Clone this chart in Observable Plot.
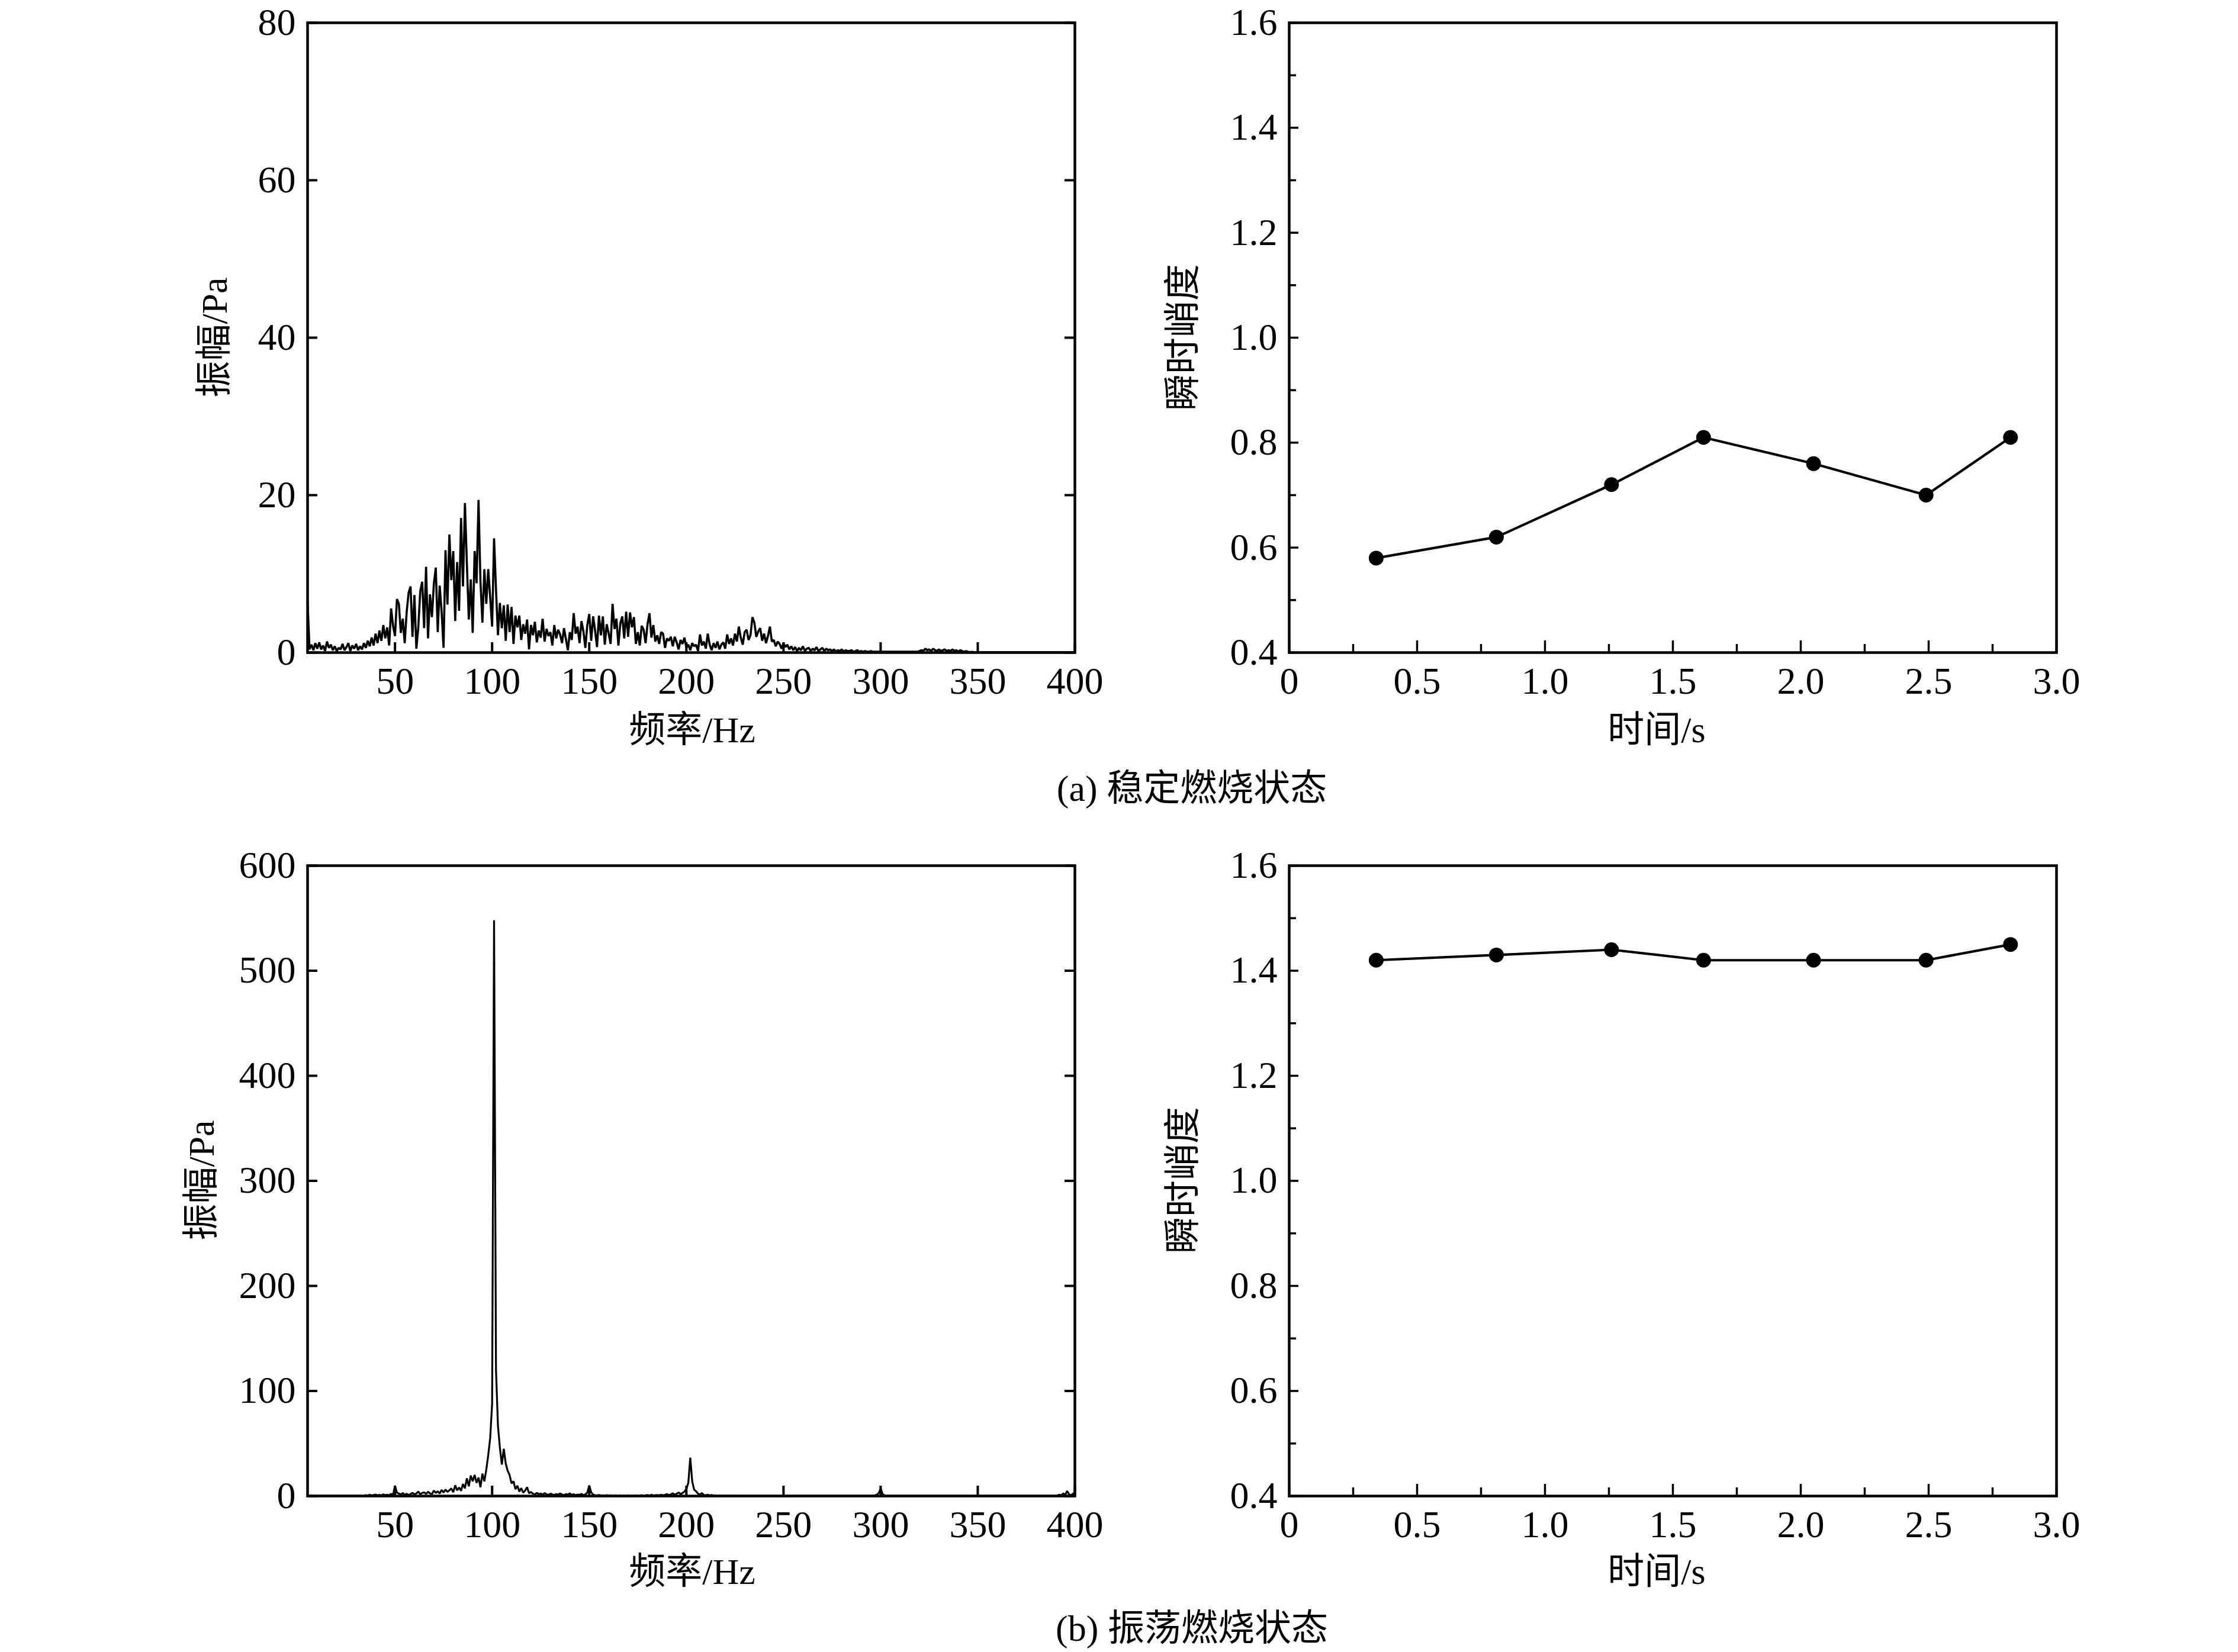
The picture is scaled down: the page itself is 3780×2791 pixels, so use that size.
<!DOCTYPE html>
<html><head><meta charset="utf-8">
<script src="https://cdn.jsdelivr.net/npm/d3@7"></script>
<script src="https://cdn.jsdelivr.net/npm/@observablehq/plot@0.6"></script>
<style>
html,body{margin:0;padding:0;background:#fff;}
#root{position:relative;width:3780px;height:2791px;background:#fff;overflow:hidden;font-family:"Liberation Serif","Noto Sans CJK SC",serif;color:#000;}
.panel{position:absolute;}
.t{position:absolute;white-space:nowrap;font-size:62px;line-height:1;transform:translate(-50%,-50%);}
.ty{transform:translate(-50%,-50%) rotate(-90deg);}
</style></head><body><div id="root"></div>
<script>
// ---------- data ----------
const freqStart = 5;          // Hz, first spectral bin
const freqStep = 1;           // Hz per bin
const freqTicks = [50, 100, 150, 200, 250, 300, 350, 400];

// (a) stable combustion spectrum, amplitude in Pa, bins from 5 Hz to 400 Hz
const ampStable = [
  6.5,0.4,1.0,0.3,1.2,0.5,1.3,0.4,0.9,0.2,
  1.4,0.6,1.0,0.3,0.8,0.2,0.6,0.4,1.1,0.3,
  0.7,1.2,0.2,0.9,0.5,1.1,0.3,0.8,0.4,1.2,
  0.6,1.5,0.8,1.9,0.9,2.4,1.2,2.8,1.5,3.5,
  1.8,3.2,0.9,5.6,3.4,2.1,6.8,6.2,2.5,4.3,
  1.2,5.1,7.6,8.4,2.0,7.3,0.5,3.2,7.8,9.0,
  3.1,10.9,1.8,7.4,4.5,8.7,10.8,2.6,8.5,5.2,
  0.6,13.0,6.1,15.0,9.2,12.9,4.0,11.5,5.3,17.1,
  8.4,19.0,11.3,4.2,9.3,2.5,12.9,8.8,19.4,9.0,
  3.8,10.6,6.2,10.6,7.0,3.3,14.5,8.0,2.2,6.3,
  3.1,6.0,1.5,6.1,2.6,5.8,1.1,4.7,3.2,4.7,
  1.6,3.6,2.4,4.2,0.4,3.5,2.2,3.9,1.3,2.8,
  1.9,4.3,1.4,3.0,2.1,2.6,0.9,3.5,1.8,2.9,
  2.3,1.2,3.1,1.7,0.3,2.6,1.6,5.0,2.4,3.3,
  1.2,4.0,2.7,0.6,3.5,4.9,1.5,4.6,2.8,0.7,
  4.7,2.2,4.6,1.0,3.6,2.4,1.1,6.2,3.0,4.3,
  0.9,3.7,4.6,1.8,5.2,2.0,5.1,3.2,4.5,1.1,
  2.6,0.9,3.4,2.9,1.2,3.6,5.0,1.9,3.5,1.4,
  2.2,1.1,2.6,2.4,0.6,1.8,1.5,2.0,0.8,2.0,
  1.3,0.4,1.6,1.1,1.9,0.6,1.0,0.3,1.2,0.8,
  1.0,0.2,2.3,0.9,1.4,0.5,2.4,1.0,0.3,1.2,
  0.6,1.4,0.4,1.0,1.3,0.5,2.3,1.1,1.8,0.9,
  2.4,1.4,3.3,1.9,1.0,2.6,2.9,1.6,2.2,4.5,
  3.8,2.0,2.7,3.1,1.5,2.4,1.2,2.1,3.3,1.4,
  1.6,0.8,1.4,1.1,0.5,1.2,0.7,1.0,0.4,0.8,
  0.3,0.7,0.2,0.6,0.3,0.8,0.2,0.5,0.6,0.2,
  0.5,0.3,0.7,0.2,0.4,0.6,0.2,0.5,0.3,0.4,
  0.2,0.4,0.1,0.3,0.2,0.4,0.1,0.3,0.2,0.2,
  0.3,0.1,0.2,0.3,0.1,0.2,0.1,0.2,0.1,0.1,
  0.2,0.1,0.1,0.1,0.1,0.1,0.1,0.1,0.1,0.1,
  0.1,0.1,0.1,0.1,0.1,0.1,0.1,0.1,0.1,0.1,
  0.1,0.1,0.1,0.1,0.1,0.2,0.3,0.2,0.5,0.3,
  0.4,0.2,0.5,0.3,0.2,0.4,0.2,0.3,0.4,0.2,
  0.3,0.2,0.4,0.2,0.3,0.1,0.3,0.2,0.1,0.2,
  0.1,0.05,0.1,0.05,0.05,0.05,0.05,0.05,0.05,0.05,
  0.05,0.05,0.05,0.05,0.05,0.05,0.05,0.05,0.05,0.05,
  0.05,0.05,0.05,0.05,0.05,0.05,0.05,0.05,0.05,0.05,
  0.05,0.05,0.05,0.05,0.05,0.05,0.05,0.05,0.05,0.05,
  0.05,0.05,0.05,0.05,0.05,0.05,0.05,0.05,0.05,0.05,
  0.05,0.05,0.05,0.05,0.05,0.05
];
const ampStableTicks = [0, 20, 40, 60, 80];

// (b) oscillating combustion spectrum, amplitude in Pa, bins from 5 Hz to 400 Hz
const ampOsc = [
  0.5,0.3,0.6,0.2,0.4,0.3,0.5,0.2,0.4,0.3,
  0.3,0.5,0.2,0.4,0.3,0.2,0.4,0.3,0.5,0.2,
  0.3,0.4,0.2,0.3,0.5,0.2,0.4,0.3,0.2,0.4,
  0.8,0.5,1.2,0.6,0.9,1.4,0.7,1.1,0.5,1.6,
  0.9,1.3,0.7,2.1,1.0,9.8,3.2,2.4,1.5,2.8,
  1.2,2.2,0.9,1.8,3.1,1.4,2.5,4.2,1.7,2.9,
  3.5,2.0,4.1,2.6,1.8,5.2,3.0,4.6,2.4,5.8,
  3.3,6.1,4.0,5.5,7.2,3.6,10.2,5.4,8.1,4.9,
  11.5,7.3,16.8,9.2,19.5,14.0,20.1,12.5,17.6,8.4,
  21.3,14.0,25.0,39.0,55.0,88.0,548.0,120.0,67.0,46.0,
  30.0,45.0,31.0,24.0,20.0,12.0,14.0,6.5,9.8,4.2,
  7.5,3.1,5.2,8.4,2.6,3.9,2.2,1.6,3.0,1.8,
  2.4,1.3,2.8,1.7,1.1,2.2,1.5,0.9,1.8,1.2,
  2.5,1.4,0.8,1.9,1.3,2.6,1.0,1.7,0.8,1.4,
  1.1,2.0,0.9,1.6,3.2,10.0,3.5,1.2,0.8,0.6,
  0.9,0.5,0.7,0.4,0.8,0.5,0.6,0.4,0.7,0.5,
  0.4,0.6,0.3,0.5,0.4,0.7,0.3,0.5,0.4,0.6,
  0.4,0.5,0.8,0.3,0.6,0.9,0.4,1.2,0.5,0.8,
  1.0,0.6,1.3,0.7,1.1,1.8,0.9,1.5,2.6,1.2,
  2.1,3.4,1.8,2.9,4.2,6.8,12.5,36.5,14.0,6.0,
  4.5,2.2,1.4,2.8,1.0,0.8,1.3,0.6,0.9,0.5,
  0.6,0.4,0.5,0.3,0.4,0.3,0.5,0.3,0.4,0.3,
  0.3,0.4,0.3,0.2,0.3,0.2,0.2,0.2,0.2,0.2,
  0.2,0.2,0.2,0.2,0.2,0.2,0.2,0.2,0.2,0.2,
  0.2,0.2,0.2,0.2,0.2,0.2,0.2,0.2,0.2,0.2,
  0.2,0.2,0.2,0.2,0.2,0.2,0.2,0.2,0.2,0.2,
  0.2,0.2,0.2,0.2,0.2,0.2,0.2,0.2,0.2,0.2,
  0.2,0.2,0.2,0.2,0.2,0.2,0.2,0.2,0.2,0.2,
  0.2,0.2,0.2,0.2,0.2,0.2,0.2,0.2,0.2,0.2,
  0.2,0.3,0.5,1.2,2.8,7.0,2.0,0.6,0.3,0.2,
  0.2,0.2,0.2,0.2,0.2,0.2,0.2,0.2,0.2,0.2,
  0.2,0.2,0.2,0.2,0.2,0.2,0.2,0.2,0.2,0.2,
  0.2,0.2,0.2,0.2,0.2,0.2,0.2,0.2,0.2,0.2,
  0.2,0.2,0.2,0.2,0.2,0.2,0.2,0.2,0.2,0.2,
  0.2,0.2,0.2,0.2,0.2,0.2,0.2,0.2,0.2,0.2,
  0.2,0.2,0.2,0.2,0.2,0.2,0.2,0.2,0.2,0.2,
  0.2,0.2,0.2,0.2,0.2,0.2,0.2,0.2,0.2,0.2,
  0.2,0.2,0.2,0.2,0.2,0.2,0.2,0.2,0.2,0.2,
  0.2,0.3,0.2,0.3,0.2,0.3,0.5,1.2,0.6,2.5,
  0.9,4.8,1.5,0.8,2.0,3.5
];
const ampOscTicks = [0, 100, 200, 300, 400, 500, 600];

// instantaneous kurtosis
const timeS = [0.34, 0.81, 1.26, 1.62, 2.05, 2.49, 2.82];
const kurtStable = [0.58, 0.62, 0.72, 0.81, 0.76, 0.70, 0.81];
const kurtOsc = [1.42, 1.43, 1.44, 1.42, 1.42, 1.42, 1.45];
const timeTicks = [0, 0.5, 1.0, 1.5, 2.0, 2.5, 3.0];
const timeMinor = [0.25, 0.75, 1.25, 1.75, 2.25, 2.75];
const kurtTicks = [0.4, 0.6, 0.8, 1.0, 1.2, 1.4, 1.6];
const kurtMinor = [0.5, 0.7, 0.9, 1.1, 1.3, 1.5];

const labels = {
  freq: "频率/Hz", amp: "振幅/Pa", time: "时间/s", kurt: "瞬时峭度",
  capA: "(a) 稳定燃烧状态", capB: "(b) 振荡燃烧状态"
};

// ---------- rendering ----------
const root = document.getElementById("root");
const FONT = "'Liberation Serif','Noto Sans CJK SC',serif";
const FS = 64;
const black = "#000";
const OY = 4; // small global vertical offset

function place(node, left, top) {
  const d = document.createElement("div");
  d.className = "panel";
  d.style.left = left + "px";
  d.style.top = top + "px";
  d.appendChild(node);
  root.appendChild(d);
}
function text(str, x, y, rotate) {
  const d = document.createElement("div");
  d.className = "t" + (rotate ? " ty" : "");
  d.style.left = x + "px";
  d.style.top = (y + OY) + "px";
  d.textContent = str;
  root.appendChild(d);
}

function spectrum(amps, yDomain, yTicks, box, sw) {
  const [left, top, width, height, fx0, fy0, fx1, fy1] = box;
  const iw = fx1 - fx0, ih = fy1 - fy0, tl = 17;
  return Plot.plot({
    width, height,
    marginLeft: fx0 - left, marginRight: left + width - fx1,
    marginTop: fy0 - top, marginBottom: top + height - fy1,
    style: {background: "transparent", fontFamily: FONT, fontSize: FS + "px", maxWidth: "none", overflow: "visible"},
    x: {domain: [freqStart, 400]},
    y: {domain: yDomain},
    marks: [
      Plot.line(amps, {x: (d, i) => freqStart + i * freqStep, y: d => d, stroke: black, strokeWidth: sw, strokeLinejoin: "miter"}),
      Plot.tickX(freqTicks, {x: d => d, insetTop: ih - tl, stroke: black, strokeWidth: 4}),
      Plot.tickY(yTicks, {y: d => d, insetRight: iw - tl, stroke: black, strokeWidth: 4}),
      Plot.tickY(yTicks, {y: d => d, insetLeft: iw - tl, stroke: black, strokeWidth: 4}),
      Plot.frame({stroke: black, strokeWidth: 4.5}),
      Plot.axisX(freqTicks, {tickSize: 0, tickPadding: 24, label: null, fontSize: FS, tickFormat: d => String(d)}),
      Plot.axisY(yTicks, {tickSize: 0, tickPadding: 20, label: null, fontSize: FS, tickFormat: d => String(d)})
    ]
  });
}

function kurtosis(vals, box) {
  const [left, top, width, height, fx0, fy0, fx1, fy1] = box;
  const iw = fx1 - fx0, ih = fy1 - fy0;
  return Plot.plot({
    width, height,
    marginLeft: fx0 - left, marginRight: left + width - fx1,
    marginTop: fy0 - top, marginBottom: top + height - fy1,
    style: {background: "transparent", fontFamily: FONT, fontSize: FS + "px", maxWidth: "none", overflow: "visible"},
    x: {domain: [0, 3]},
    y: {domain: [0.4, 1.6]},
    marks: [
      Plot.tickX(timeTicks, {x: d => d, insetTop: ih - 20, stroke: black, strokeWidth: 3.5}),
      Plot.tickX(timeMinor, {x: d => d, insetTop: ih - 14, stroke: black, strokeWidth: 3.5}),
      Plot.tickY(kurtTicks, {y: d => d, insetRight: iw - 16, stroke: black, strokeWidth: 3.5}),
      Plot.tickY(kurtMinor, {y: d => d, insetRight: iw - 12, stroke: black, strokeWidth: 3.5}),
      Plot.line(vals, {x: (d, i) => timeS[i], y: d => d, stroke: black, strokeWidth: 4.2}),
      Plot.dot(vals, {x: (d, i) => timeS[i], y: d => d, r: 12.5, fill: black, stroke: null}),
      Plot.frame({stroke: black, strokeWidth: 4.5}),
      Plot.axisX(timeTicks, {tickSize: 0, tickPadding: 24, label: null, fontSize: FS, tickFormat: d => d === 0 ? "0" : d.toFixed(1)}),
      Plot.axisY(kurtTicks, {tickSize: 0, tickPadding: 20, label: null, fontSize: FS, tickFormat: d => d.toFixed(1)})
    ]
  });
}

// top row
place(spectrum(ampStable, [0, 80], ampStableTicks, [0, 0, 1900, 1190, 519, 34, 1815, 1098], 3.6), 0, OY);
place(kurtosis(kurtStable, [1900, 0, 1800, 1190, 2177, 34, 3473, 1098]), 1900, OY);
// bottom row
place(spectrum(ampOsc, [0, 600], ampOscTicks, [0, 1400, 1900, 1210, 519, 1458, 1815, 2523], 3.2), 0, 1400 + OY);
place(kurtosis(kurtOsc, [1900, 1400, 1800, 1210, 2177, 1458, 3473, 2523]), 1900, 1400 + OY);

// axis titles and captions
text(labels.freq, 1169, 1229);
text(labels.time, 2798, 1229);
text(labels.amp, 362, 566, true);
text(labels.kurt, 1998, 566, true);
text(labels.capA, 2013, 1328);

text(labels.freq, 1169, 2651);
text(labels.time, 2798, 2651);
text(labels.amp, 340, 1990, true);
text(labels.kurt, 1998, 1990, true);
text(labels.capB, 2013, 2747);
</script></body></html>
